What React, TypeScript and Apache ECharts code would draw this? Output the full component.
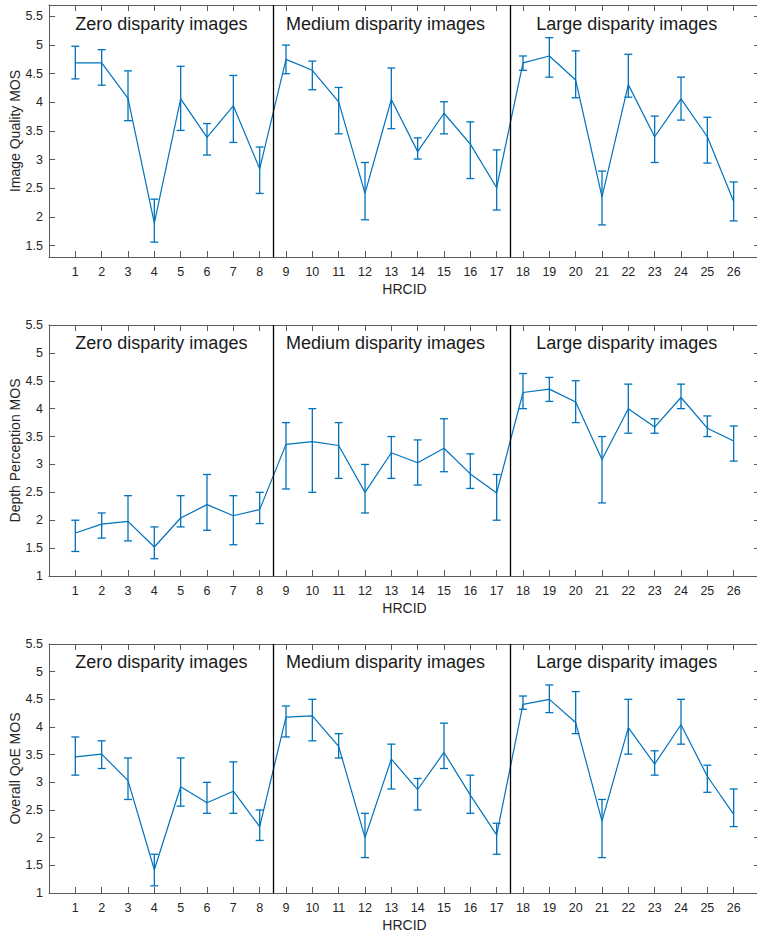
import React, { useEffect, useRef } from "react";
import * as echarts from "echarts";

// ---- data ----
const hrcid = [1, 2, 3, 4, 5, 6, 7, 8, 9, 10, 11, 12, 13, 14, 15, 16, 17, 18, 19, 20, 21, 22, 23, 24, 25, 26];

const iqMean = [4.69, 4.69, 4.07, 1.89, 4.06, 3.39, 3.94, 2.84, 4.75, 4.56, 4.01, 2.41, 4.05, 3.14, 3.81, 3.27, 2.51, 4.69, 4.81, 4.39, 2.35, 4.31, 3.40, 4.06, 3.40, 2.27];
const iqHigh = [4.98, 4.92, 4.55, 2.31, 4.63, 3.63, 4.47, 3.22, 5.0, 4.72, 4.26, 2.95, 4.60, 3.38, 4.01, 3.66, 3.17, 4.81, 5.13, 4.90, 2.80, 4.84, 3.76, 4.44, 3.74, 2.61];
const iqLow = [4.41, 4.30, 3.68, 1.56, 3.51, 3.08, 3.30, 2.41, 4.50, 4.22, 3.45, 1.95, 3.54, 3.01, 3.45, 2.67, 2.12, 4.56, 4.44, 4.08, 1.86, 4.09, 2.95, 3.69, 2.94, 1.93];

const dpMean = [1.77, 1.93, 1.98, 1.52, 2.04, 2.28, 2.08, 2.19, 3.36, 3.41, 3.34, 2.50, 3.21, 3.03, 3.29, 2.83, 2.49, 4.29, 4.35, 4.12, 3.09, 4.0, 3.67, 4.20, 3.65, 3.42];
const dpHigh = [2.0, 2.13, 2.44, 1.88, 2.44, 2.82, 2.44, 2.50, 3.75, 4.0, 3.75, 3.0, 3.50, 3.44, 3.82, 3.19, 2.82, 4.63, 4.56, 4.50, 3.50, 4.44, 3.82, 4.44, 3.87, 3.69];
const dpLow = [1.44, 1.68, 1.63, 1.31, 1.88, 1.82, 1.56, 1.94, 2.56, 2.50, 2.75, 2.13, 2.75, 2.63, 2.87, 2.57, 2.0, 4.0, 4.13, 3.75, 2.31, 3.56, 3.56, 4.0, 3.50, 3.06];

const qoeMean = [3.46, 3.51, 3.03, 1.42, 2.92, 2.63, 2.84, 2.20, 4.18, 4.20, 3.65, 2.0, 3.42, 2.87, 3.54, 2.77, 2.05, 4.41, 4.50, 4.08, 2.30, 3.99, 3.33, 4.04, 3.11, 2.42];
const qoeHigh = [3.82, 3.75, 3.44, 1.70, 3.44, 3.0, 3.37, 2.50, 4.38, 4.50, 3.88, 2.44, 3.69, 3.07, 4.07, 3.13, 2.26, 4.56, 4.76, 4.64, 2.69, 4.50, 3.57, 4.50, 3.31, 2.88];
const qoeLow = [3.13, 3.25, 2.69, 1.13, 2.57, 2.44, 2.44, 1.95, 3.82, 3.75, 3.44, 1.64, 2.88, 2.50, 3.25, 2.44, 1.70, 4.32, 4.26, 3.88, 1.64, 3.51, 3.13, 3.69, 2.82, 2.20];

const yTitles = ["Image Quality MOS", "Depth Perception MOS", "Overall QoE MOS"];
const yMins = [1.3, 1, 1];
const yMaxs = [5.7, 5.5, 5.5];
const yTickValues = [1, 1.5, 2, 2.5, 3, 3.5, 4, 4.5, 5, 5.5];
const groupBounds = [8.5, 17.5];
const groupLabels = ["Zero disparity images", "Medium disparity images", "Large disparity images"];
const groupLabelX = [1, 9, 18.5];
const groupLabelY = [5.36, 5.17, 5.17];
const xTitle = "HRCID";

const panels = [
  { mean: iqMean, low: iqLow, high: iqHigh },
  { mean: dpMean, low: dpLow, high: dpHigh },
  { mean: qoeMean, low: qoeLow, high: qoeHigh },
];

const FONT = "'Liberation Sans', Arial, Helvetica, sans-serif";
const BLUE = "#0072BD";
const AXIS = "#5a5a5a";
const TXT = "#262626";

export default function App() {
  const ref = useRef<HTMLDivElement | null>(null);

  useEffect(() => {
    if (!ref.current) return;
    const chart = echarts.init(ref.current, undefined, { renderer: "svg" });

    const grids = [
      { left: 49, top: 5, width: 711, height: 252, outerBoundsMode: "none", containLabel: false },
      { left: 49, top: 325, width: 711, height: 251, outerBoundsMode: "none", containLabel: false },
      { left: 49, top: 644, width: 711, height: 249, outerBoundsMode: "none", containLabel: false },
    ];

    const xAxes: any[] = [];
    const yAxes: any[] = [];
    const series: any[] = [];

    panels.forEach((p, g) => {
      const lineStyle = { color: AXIS, width: 1 };
      xAxes.push({
        type: "value",
        gridIndex: g,
        position: "bottom",
        min: 0,
        max: 27,
        interval: 1,
        axisLine: { show: true, onZero: false, lineStyle },
        axisTick: { show: true, inside: true, length: 6, lineStyle },
        axisLabel: {
          show: true,
          margin: 8,
          fontSize: 12.5,
          color: TXT,
          fontFamily: FONT,
          formatter: (v: number) => (v >= 1 && v <= 26 ? String(v) : ""),
        },
        splitLine: { show: false },
        name: xTitle,
        nameLocation: "middle",
        nameGap: 25,
        nameMoveOverlap: false,
        nameTextStyle: { fontSize: 14, color: TXT, fontFamily: FONT },
      });
      xAxes.push({
        type: "value",
        gridIndex: g,
        position: "top",
        min: 0,
        max: 27,
        interval: 1,
        axisLine: { show: true, onZero: false, lineStyle },
        axisTick: { show: true, inside: true, length: 6, lineStyle },
        axisLabel: { show: false },
        splitLine: { show: false },
      });
      const ticks = yTickValues.filter((v) => v >= yMins[g] - 1e-9 && v <= yMaxs[g] + 1e-9);
      yAxes.push({
        type: "value",
        gridIndex: g,
        position: "left",
        min: yMins[g],
        max: yMaxs[g],
        axisLine: { show: true, onZero: false, lineStyle },
        axisTick: { show: true, inside: true, length: 6, lineStyle, customValues: ticks },
        axisLabel: {
          show: true,
          margin: 6,
          fontSize: 12.5,
          color: TXT,
          fontFamily: FONT,
          customValues: ticks,
        },
        splitLine: { show: false },
        name: yTitles[g],
        nameLocation: "middle",
        nameGap: 27,
        nameMoveOverlap: false,
        nameTextStyle: { fontSize: 14, color: TXT, fontFamily: FONT },
      });
      yAxes.push({
        type: "value",
        gridIndex: g,
        position: "right",
        min: yMins[g],
        max: yMaxs[g],
        axisLine: { show: true, onZero: false, lineStyle },
        axisTick: { show: true, inside: true, length: 6, lineStyle, customValues: ticks },
        axisLabel: { show: false },
        splitLine: { show: false },
      });

      series.push({
        type: "line",
        xAxisIndex: 2 * g,
        yAxisIndex: 2 * g,
        data: hrcid.map((x, i) => [x, p.mean[i]]),
        symbol: "none",
        lineStyle: { color: BLUE, width: 1.2 },
        itemStyle: { color: BLUE },
        z: 3,
        markLine: {
          silent: true,
          symbol: ["none", "none"],
          label: { show: false },
          lineStyle: { color: "#000", width: 1.3, type: "solid" },
          data: groupBounds.map((b) => ({ xAxis: b })),
        },
      });
      series.push({
        type: "custom",
        xAxisIndex: 2 * g,
        yAxisIndex: 2 * g,
        data: hrcid.map((x, i) => [x, p.low[i], p.high[i]]),
        encode: { x: 0, y: [1, 2] },
        z: 4,
        renderItem: (params: any, api: any) => {
          const x = api.value(0);
          const lo = api.coord([x, api.value(1)]);
          const hi = api.coord([x, api.value(2)]);
          const hw = 4;
          const style = { stroke: BLUE, lineWidth: 1.3, fill: "none" };
          return {
            type: "group",
            children: [
              { type: "line", shape: { x1: lo[0], y1: lo[1], x2: hi[0], y2: hi[1] }, style },
              { type: "line", shape: { x1: lo[0] - hw, y1: lo[1], x2: lo[0] + hw, y2: lo[1] }, style },
              { type: "line", shape: { x1: hi[0] - hw, y1: hi[1], x2: hi[0] + hw, y2: hi[1] }, style },
            ],
          };
        },
      });
    });

    chart.setOption({
      animation: false,
      backgroundColor: "#ffffff",
      grid: grids,
      xAxis: xAxes,
      yAxis: yAxes,
      series,
    });

    const graphics: any[] = [];
    panels.forEach((_, g) => {
      groupLabels.forEach((txt, k) => {
        const pt = chart.convertToPixel({ xAxisIndex: 2 * g, yAxisIndex: 2 * g } as any, [groupLabelX[k], groupLabelY[g]]) as number[];
        graphics.push({
          type: "text",
          x: pt[0],
          y: pt[1],
          style: {
            text: txt,
            fontSize: 18,
            fontFamily: FONT,
            fill: "#1a1a1a",
            textAlign: "left",
            textVerticalAlign: "middle",
          },
          z: 10,
        });
      });
    });
    chart.setOption({ graphic: graphics });

    return () => chart.dispose();
  }, []);

  return (
    <div
      ref={ref}
      style={{ position: "fixed", left: 0, top: 0, width: 757, height: 936, background: "#fff" }}
    />
  );
}
